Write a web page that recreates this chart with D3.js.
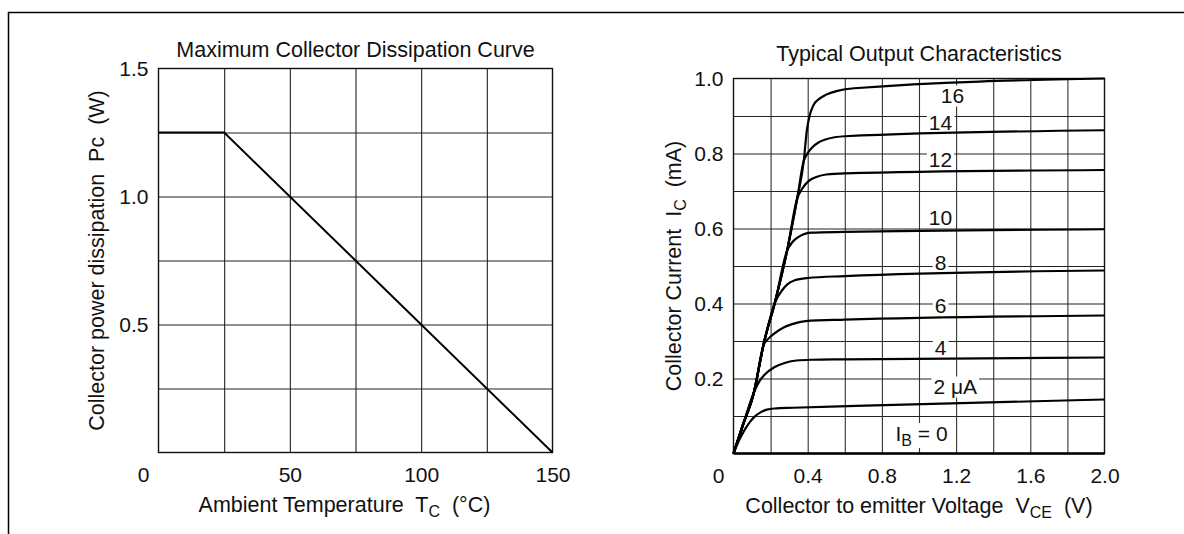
<!DOCTYPE html>
<html>
<head>
<meta charset="utf-8">
<script src="https://d3js.org/d3.v7.min.js"></script>
<style>
  body { margin: 0; background: #fff; }
  svg text { font-family: "Liberation Sans", Arial, Helvetica, sans-serif; fill: #111; }
</style>
</head>
<body>
<div class="holder"></div>
<script>
// ---- left chart: maximum collector dissipation ----
var tempTicks = [50, 100, 150];
var powerTicks = [0.5, 1.0, 1.5];
var tempGrid = [25, 50, 75, 100, 125];
var powerGrid = [0.25, 0.5, 0.75, 1.0, 1.25];
var deratingTemp = [0, 25, 150];
var deratingPower = [1.25, 1.25, 0];

// ---- right chart: typical output characteristics ----
var vceTicks = [0.4, 0.8, 1.2, 1.6, 2.0];
var icTicks = [0.2, 0.4, 0.6, 0.8, 1.0];
var vceGrid = [0.2, 0.4, 0.6, 0.8, 1.0, 1.2, 1.4, 1.6, 1.8];
var icGrid = [0.1, 0.2, 0.3, 0.4, 0.5, 0.6, 0.7, 0.8, 0.9];

// [Vce (V), Ic (mA)], one list per base current
var ib2 = [[0, 0], [0.03, 0.035], [0.06, 0.063], [0.09, 0.085], [0.12, 0.101], [0.15, 0.111], [0.18, 0.117], [0.22, 0.12], [0.32, 0.122], [0.66, 0.127], [2.0, 0.144]];
var ib4 = [[0, 0], [0.05, 0.075], [0.11, 0.163], [0.14, 0.193], [0.172, 0.212], [0.22, 0.23], [0.28, 0.242], [0.34, 0.248], [0.42, 0.25], [0.6, 0.251], [2.0, 0.256]];
var ib6 = [[0, 0], [0.05, 0.075], [0.11, 0.163], [0.163, 0.29], [0.19, 0.307], [0.226, 0.322], [0.27, 0.336], [0.316, 0.345], [0.388, 0.353], [0.6, 0.357], [2.0, 0.368]];
var ib8 = [[0, 0], [0.05, 0.075], [0.11, 0.163], [0.163, 0.293], [0.226, 0.405], [0.26, 0.434], [0.29, 0.451], [0.33, 0.462], [0.4, 0.468], [0.6, 0.473], [2.0, 0.488]];
var ib10 = [[0, 0], [0.05, 0.075], [0.11, 0.163], [0.163, 0.293], [0.226, 0.408], [0.289, 0.541], [0.315, 0.562], [0.343, 0.575], [0.375, 0.584], [0.42, 0.589], [0.6, 0.591], [2.0, 0.598]];
var ib12 = [[0, 0], [0.05, 0.075], [0.11, 0.163], [0.163, 0.293], [0.226, 0.408], [0.289, 0.541], [0.343, 0.679], [0.37, 0.706], [0.406, 0.727], [0.45, 0.738], [0.5, 0.744], [0.6, 0.747], [2.0, 0.756]];
var ib14 = [[0, 0], [0.05, 0.075], [0.11, 0.163], [0.163, 0.293], [0.226, 0.408], [0.289, 0.541], [0.343, 0.679], [0.379, 0.781], [0.4, 0.801], [0.424, 0.816], [0.46, 0.83], [0.5, 0.838], [0.6, 0.846], [2.0, 0.862]];
var ib16 = [[0, 0], [0.05, 0.075], [0.11, 0.163], [0.163, 0.293], [0.226, 0.408], [0.289, 0.541], [0.343, 0.679], [0.379, 0.781], [0.395, 0.86], [0.41, 0.9], [0.43, 0.928], [0.46, 0.945], [0.5, 0.957], [0.56, 0.967], [0.65, 0.974], [2.0, 1.0]];
var ibCurves = [ib2, ib4, ib6, ib8, ib10, ib12, ib14, ib16];
var ibLabels = ["2 \u03bcA", "4", "6", "8", "10", "12", "14", "16"];
// where each label sits, in [Vce, Ic]
var ibLabelAt = [[1.078, 0.177], [1.116, 0.283], [1.116, 0.395], [1.116, 0.509], [1.116, 0.63], [1.116, 0.784], [1.116, 0.881], [1.18, 0.953]];

var W = 1184, H = 534;
var tickFont = 21, titleFont = 21.5, subFont = 16;

var chart = d3.select(".holder").append("svg")
  .attr("width", W).attr("height", H);

// page frame (top and left edge)
chart.append("path")
  .attr("d", "M8.5," + H + "V12.5H" + W)
  .attr("fill", "none").attr("stroke", "#000").attr("stroke-width", 1.5);

function styleAxis(g) {
  g.attr("font-family", null).attr("font-size", tickFont);
  g.select(".domain").remove();
}

/* ================= left chart ================= */
var lx = d3.scaleLinear().domain([0, 150]).range([158.5, 552.5]);
var ly = d3.scaleLinear().domain([0, 1.5]).range([452.5, 68.5]);

var left = chart.append("g");

left.append("g").attr("transform", "translate(0," + ly(0) + ")")
  .call(d3.axisBottom(lx).tickValues(tempGrid).tickSize(-(ly(0) - ly(1.5))).tickFormat(""))
  .call(styleAxis)
  .selectAll("line").attr("stroke", "#222").attr("stroke-width", 1.1);

left.append("g").attr("transform", "translate(" + lx(0) + ",0)")
  .call(d3.axisLeft(ly).tickValues(powerGrid).tickSize(-(lx(150) - lx(0))).tickFormat(""))
  .call(styleAxis)
  .selectAll("line").attr("stroke", "#222").attr("stroke-width", 1.1);

left.append("rect")
  .attr("x", lx(0)).attr("y", ly(1.5))
  .attr("width", lx(150) - lx(0)).attr("height", ly(0) - ly(1.5))
  .attr("fill", "none").attr("stroke", "#111").attr("stroke-width", 1.4);

left.append("path")
  .datum(deratingTemp.map(function(t, i) { return [t, deratingPower[i]]; }))
  .attr("d", d3.line().x(function(d) { return lx(d[0]); }).y(function(d) { return ly(d[1]); }))
  .attr("fill", "none").attr("stroke", "#000").attr("stroke-width", 2);

left.append("g").attr("transform", "translate(0," + ly(0) + ")")
  .call(d3.axisBottom(lx).tickValues(tempTicks).tickSize(0).tickPadding(15).tickFormat(d3.format("d")))
  .call(styleAxis);

left.append("g").attr("transform", "translate(" + lx(0) + ",0)")
  .call(d3.axisLeft(ly).tickValues(powerTicks).tickSize(0).tickPadding(10).tickFormat(d3.format(".1f")))
  .call(styleAxis);

left.append("text").attr("x", lx(0) - 15).attr("y", 482)
  .attr("text-anchor", "middle").attr("font-size", tickFont).text("0");

left.append("text").attr("x", (lx(0) + lx(150)) / 2).attr("y", 57)
  .attr("text-anchor", "middle").attr("font-size", titleFont)
  .text("Maximum Collector Dissipation Curve");

var lxt = left.append("text").attr("x", (lx(0) + lx(150)) / 2 - 11).attr("y", 512)
  .attr("text-anchor", "middle").attr("font-size", titleFont).style("white-space", "pre");
lxt.append("tspan").text("Ambient Temperature  T");
lxt.append("tspan").attr("font-size", subFont).attr("dy", 5).text("C");
lxt.append("tspan").attr("dy", -5).text("  (\u00b0C)");

left.append("text")
  .attr("transform", "translate(104," + (ly(0) + ly(1.5)) / 2 + ") rotate(-90)")
  .attr("text-anchor", "middle").attr("font-size", titleFont).style("white-space", "pre")
  .text("Collector power dissipation  Pc  (W)");

/* ================= right chart ================= */
var rx = d3.scaleLinear().domain([0, 2.0]).range([733.5, 1104.5]);
var ry = d3.scaleLinear().domain([0, 1.0]).range([453.5, 78.5]);

var right = chart.append("g");

right.append("g").attr("transform", "translate(0," + ry(0) + ")")
  .call(d3.axisBottom(rx).tickValues(vceGrid).tickSize(-(ry(0) - ry(1))).tickFormat(""))
  .call(styleAxis)
  .selectAll("line").attr("stroke", "#333").attr("stroke-width", 1.1);

right.append("g").attr("transform", "translate(" + rx(0) + ",0)")
  .call(d3.axisLeft(ry).tickValues(icGrid).tickSize(-(rx(2) - rx(0))).tickFormat(""))
  .call(styleAxis)
  .selectAll("line").attr("stroke", "#222").attr("stroke-width", 1.1);

right.append("rect")
  .attr("x", rx(0)).attr("y", ry(1))
  .attr("width", rx(2) - rx(0)).attr("height", ry(0) - ry(1))
  .attr("fill", "none").attr("stroke", "#111").attr("stroke-width", 1.4);

right.append("line")
  .attr("x1", rx(0)).attr("x2", rx(2)).attr("y1", ry(0)).attr("y2", ry(0))
  .attr("stroke", "#000").attr("stroke-width", 2.4);

// curve labels with white boxes behind them (they break the grid)
var lab = right.selectAll(".iblabel").data(ibLabels).enter().append("g").attr("class", "iblabel");
lab.append("text")
  .attr("x", function(d, i) { return rx(ibLabelAt[i][0]); })
  .attr("y", function(d, i) { return ry(ibLabelAt[i][1]); })
  .attr("dy", "0.35em")
  .attr("text-anchor", function(d, i) { return i === 0 ? "start" : "middle"; })
  .attr("font-size", tickFont)
  .text(function(d) { return d; });

var ib0 = right.append("g");
var ib0t = ib0.append("text").attr("x", rx(0.873)).attr("y", ry(0.053)).attr("dy", "0.35em")
  .attr("font-size", tickFont).style("white-space", "pre");
ib0t.append("tspan").text("I");
ib0t.append("tspan").attr("font-size", subFont).attr("dy", 5).text("B");
ib0t.append("tspan").attr("dy", -5).text(" = 0");

right.selectAll(".iblabel").nodes().concat([ib0.node()]).forEach(function(g) {
  var b = g.querySelector("text").getBBox();
  d3.select(g).insert("rect", "text")
    .attr("x", b.x - 2).attr("y", b.y + 1)
    .attr("width", b.width + 4).attr("height", b.height - 2)
    .attr("fill", "#fff");
});

var curveLine = d3.line()
  .x(function(d) { return rx(d[0]); })
  .y(function(d) { return ry(d[1]); })
  .curve(d3.curveMonotoneX);

right.selectAll(".ib").data(ibCurves).enter().append("path")
  .attr("class", "ib")
  .attr("d", curveLine)
  .attr("fill", "none").attr("stroke", "#000").attr("stroke-width", 2.2)
  .attr("stroke-linejoin", "round");

right.append("g").attr("transform", "translate(0," + ry(0) + ")")
  .call(d3.axisBottom(rx).tickValues(vceTicks).tickSize(0).tickPadding(15).tickFormat(d3.format(".1f")))
  .call(styleAxis);

right.append("g").attr("transform", "translate(" + rx(0) + ",0)")
  .call(d3.axisLeft(ry).tickValues(icTicks).tickSize(0).tickPadding(10).tickFormat(d3.format(".1f")))
  .call(styleAxis);

right.append("text").attr("x", rx(0) - 15).attr("y", 483)
  .attr("text-anchor", "middle").attr("font-size", tickFont).text("0");

right.append("text").attr("x", (rx(0) + rx(2)) / 2).attr("y", 61)
  .attr("text-anchor", "middle").attr("font-size", titleFont)
  .text("Typical Output Characteristics");

var rxt = right.append("text").attr("x", (rx(0) + rx(2)) / 2).attr("y", 513)
  .attr("text-anchor", "middle").attr("font-size", titleFont).style("white-space", "pre");
rxt.append("tspan").text("Collector to emitter Voltage  V");
rxt.append("tspan").attr("font-size", subFont).attr("dy", 5).text("CE");
rxt.append("tspan").attr("dy", -5).text("  (V)");

var ryt = right.append("text")
  .attr("transform", "translate(681," + (ry(0) + ry(1)) / 2 + ") rotate(-90)")
  .attr("text-anchor", "middle").attr("font-size", titleFont).style("white-space", "pre");
ryt.append("tspan").text("Collector Current  I");
ryt.append("tspan").attr("font-size", subFont).attr("dy", 5).text("C");
ryt.append("tspan").attr("dy", -5).text("  (mA)");
</script>
</body>
</html>
